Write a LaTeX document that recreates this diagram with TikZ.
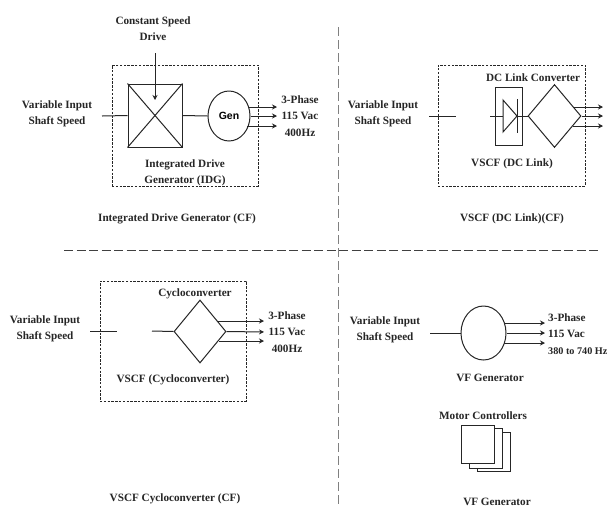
\documentclass[tikz,border=0pt]{standalone}
\usepackage{fontspec}
\setmainfont{Liberation Serif}
\newfontfamily\gensans{Liberation Sans}
\usetikzlibrary{shapes.geometric,arrows.meta}
\tikzset{
  lbl/.style={font=\bfseries\fontsize{11.2}{16.2}\selectfont,text=black!85,inner sep=0pt,align=center},
  lline/.style={line width=1pt,draw=black!85},
  arr/.style={lline,-{Stealth[length=5pt,width=5pt]}},
  dbox/.style={draw=black!85,line width=1pt,dash pattern=on 2.4pt off 1.4pt,minimum width=#1,inner sep=0pt},
  sepv/.style={draw=black!50,line width=1pt,dash pattern=on 9pt off 4pt},
  seph/.style={draw=black!75,line width=0.9pt,dash pattern=on 9pt off 3.5pt},
  solidbox/.style={draw=black!85,line width=1pt,inner sep=0pt,fill=white},
  dia/.style={shape=diamond,draw=black!85,line width=1pt,inner sep=0pt,minimum width=53pt,minimum height=63pt},
  ell/.style={shape=ellipse,draw=black!85,line width=1pt,inner sep=0pt}
}
\begin{document}
\begin{tikzpicture}[x=1pt,y=-1pt]
\useasboundingbox (0,0) rectangle (611,507);
\fill[white] (0,0) rectangle (611,507);
% separators
\coordinate (vtop) at (338,27); \coordinate (vbot) at (338,507);
\coordinate (hl) at (64,250); \coordinate (hr) at (600,250);
\draw[sepv] (vtop) -- (vbot);
\draw[seph] (hl) -- (hr);

% Panel 1
\node[dbox=146pt,minimum height=121pt] (b1) at (185,125.5) {};
\node[solidbox,minimum width=54pt,minimum height=63pt] (sq) at (155,115.5) {};
\draw[lline] (sq.north west) -- (sq.south east);
\draw[lline] (sq.north east) -- (sq.south west);
\node[ell,minimum width=42pt,minimum height=50pt,font=\gensans\bfseries\fontsize{10.5}{12}\selectfont] (gen) at (229,116) {Gen};
\node[lbl] (in1) at (57,113.5) {Variable Input\\Shaft Speed};
\node[lbl] (csd) at (153,29) {Constant Speed\\Drive};
\node[lbl] (idg) at (185,172.5) {Integrated Drive\\Generator (IDG)};
\node[lbl] (c1) at (177,219) {Integrated Drive Generator (CF)};
\node[lbl] (o1) at (300,116) {3-Phase\\115 Vac\\400Hz};
\coordinate (i1) at (102,116);
\coordinate (a1s) at (155,53); \coordinate (a1e) at (155,100);
\coordinate (g1) at (249,107); \coordinate (g1e) at (277,107);
\coordinate (g2e) at (277,116);
\coordinate (g3) at (247,126); \coordinate (g3e) at (277,126);
\draw[lline] (i1) -- (sq.west);
\draw[arr] (a1s) -- (a1e);
\draw[lline] (sq.east) -- (gen.west);
\draw[arr] (g1) -- (g1e);
\draw[arr] (gen.east) -- (g2e);
\draw[arr] (g3) -- (g3e);

% Panel 2
\node[dbox=147pt,minimum height=121pt] (b2) at (511.5,125.5) {};
\node[lbl] (in2) at (383,113.5) {Variable Input\\Shaft Speed};
\node[lbl] (dcl) at (533,78) {DC Link Converter};
\node[lbl] (vd) at (512,164) {VSCF (DC Link)};
\node[lbl] (c2) at (512,219) {VSCF (DC Link)(CF)};
\node[solidbox,fill=none,minimum width=27pt,minimum height=58pt] (dbx) at (508.5,116) {};
\node[dia] (d2) at (554.5,116) {};
\coordinate (i2a) at (429,116); \coordinate (i2b) at (456,116);
\coordinate (i2c) at (490,116);
\draw[lline] (i2a) -- (i2b);
\draw[lline] (i2c) -- (d2.west);
\coordinate (t1) at (503,100); \coordinate (t2) at (503,132); \coordinate (t3) at (517,116);
\coordinate (bar1) at (517,99); \coordinate (bar2) at (517,133);
\draw[lline,fill=white,line join=miter] (t1) -- (t3) -- (t2) -- cycle;
\draw[lline] (bar1) -- (bar2);
\coordinate (d2a) at (573,107); \coordinate (d2ae) at (603,107);
\coordinate (d2be) at (603,116);
\coordinate (d2c) at (573,126); \coordinate (d2ce) at (603,126);
\draw[arr] (d2a) -- (d2ae);
\draw[arr] (d2.east) -- (d2be);
\draw[arr] (d2c) -- (d2ce);

% Panel 3
\node[dbox=146pt,minimum height=120pt] (b3) at (173,341) {};
\node[lbl] (in3) at (45,329) {Variable Input\\Shaft Speed};
\node[lbl] (cyc) at (195,294) {Cycloconverter};
\node[lbl] (vc) at (173,380) {VSCF (Cycloconverter)};
\node[lbl] (c3) at (175,499) {VSCF Cycloconverter (CF)};
\node[lbl] (o3) at (287,332) {3-Phase\\115 Vac\\400Hz};
\node[dia,minimum width=52pt] (d3) at (200,331.5) {};
\coordinate (i3a) at (90,331); \coordinate (i3b) at (117,331);
\coordinate (i3c) at (152,331);
\draw[lline] (i3a) -- (i3b);
\draw[lline] (i3c) -- (d3.west);
\coordinate (d3a) at (217,321); \coordinate (d3ae) at (264,321);
\coordinate (d3be) at (264,332);
\coordinate (d3c) at (219,341); \coordinate (d3ce) at (264,341);
\draw[arr] (d3a) -- (d3ae);
\draw[arr] (d3.east) -- (d3be);
\draw[arr] (d3c) -- (d3ce);

% Panel 4
\node[lbl] (in4) at (385,330) {Variable Input\\Shaft Speed};
\node[ell,minimum width=45pt,minimum height=54pt] (vf) at (483.5,333) {};
\node[lbl] (vfg) at (490,378) {VF Generator};
\node[lbl] (mc) at (483,416) {Motor Controllers};
\node[lbl] (c4) at (497,502) {VF Generator};
\node[lbl,anchor=west,align=left] (o4) at (548,334) {3-Phase\\115 Vac\\{\fontsize{10.2}{16.2}\selectfont 380 to 740 Hz}};
\coordinate (i4) at (430,333);
\draw[lline] (i4) -- (vf.west);
\coordinate (v1) at (504,323); \coordinate (v1e) at (545,323);
\coordinate (v2e) at (545,333);
\coordinate (v3) at (504,343); \coordinate (v3e) at (545,343);
\draw[arr] (v1) -- (v1e);
\draw[arr] (vf.east) -- (v2e);
\draw[arr] (v3) -- (v3e);
\node[solidbox,minimum width=33pt,minimum height=39pt] (m3) at (493.5,451.5) {};
\node[solidbox,minimum width=33pt,minimum height=40pt] (m2) at (485.5,448) {};
\node[solidbox,minimum width=33pt,minimum height=38pt] (m1) at (477.5,444) {};
\end{tikzpicture}
\end{document}
